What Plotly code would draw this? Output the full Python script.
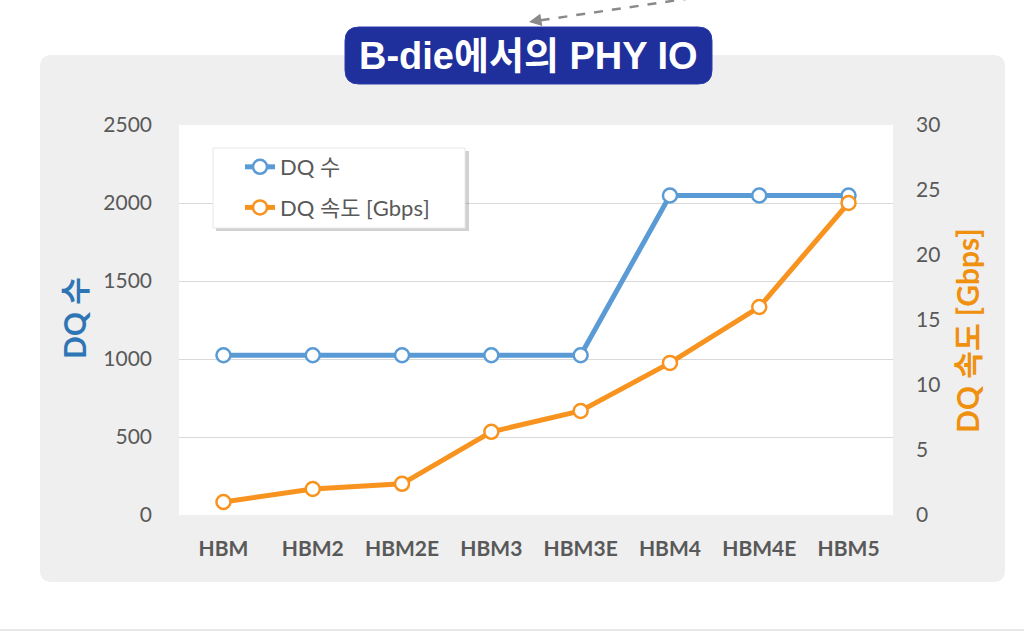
import plotly.graph_objects as go

# data
categories = ["HBM", "HBM2", "HBM2E", "HBM3", "HBM3E", "HBM4", "HBM4E", "HBM5"]
dq_count = [1024, 1024, 1024, 1024, 1024, 2048, 2048, 2048]
dq_speed = [1.0, 2.0, 2.4, 6.4, 8.0, 11.7, 16.0, 24.0]
left_ticks = [0, 500, 1000, 1500, 2000, 2500]
right_ticks = [0, 5, 10, 15, 20, 25, 30]

BLUE = "#5b9bd5"
ORANGE = "#f7931e"
GRAY_TXT = "#595959"
FONT = "Lato, Noto Sans CJK KR, sans-serif"

# plot area in pixels (left, top, right, bottom)
L, T, R, B = 179, 125, 893, 515


def px(x):
    return (x - L) / (R - L)


def py(y):
    return (B - y) / (B - T)


def rrect(x0, y0, x1, y1, r):
    return (f"M {px(x0 + r)},{py(y0)} L {px(x1 - r)},{py(y0)} "
            f"Q {px(x1)},{py(y0)} {px(x1)},{py(y0 + r)} L {px(x1)},{py(y1 - r)} "
            f"Q {px(x1)},{py(y1)} {px(x1 - r)},{py(y1)} L {px(x0 + r)},{py(y1)} "
            f"Q {px(x0)},{py(y1)} {px(x0)},{py(y1 - r)} L {px(x0)},{py(y0 + r)} "
            f"Q {px(x0)},{py(y0)} {px(x0 + r)},{py(y0)} Z")


fig = go.Figure()

fig.add_trace(go.Scatter(
    x=categories, y=dq_count, name="DQ 수", mode="lines+markers",
    line=dict(color=BLUE, width=5),
    marker=dict(size=14, color="white", line=dict(color=BLUE, width=2.5)),
    legendgroup="a"))

fig.add_trace(go.Scatter(
    x=categories, y=dq_speed, name="DQ 속도 [Gbps]", mode="lines+markers",
    yaxis="y2",
    line=dict(color=ORANGE, width=5),
    marker=dict(size=14, color="white", line=dict(color=ORANGE, width=2.5)),
    legendgroup="b"))

shapes = [
    # gray panel
    dict(type="path", xref="paper", yref="paper", path=rrect(40, 55, 1005, 582, 12),
         fillcolor="#efefef", line=dict(width=0), layer="below"),
    # white plot area
    dict(type="rect", xref="paper", yref="paper", x0=0, x1=1, y0=0, y1=1,
         fillcolor="white", line=dict(width=0), layer="below"),
    # legend shadow + box
    dict(type="rect", xref="paper", yref="paper", x0=px(216), x1=px(469),
         y0=py(231), y1=py(151), fillcolor="rgba(0,0,0,0.18)", line=dict(width=0)),
    dict(type="rect", xref="paper", yref="paper", x0=px(213), x1=px(465),
         y0=py(228), y1=py(148), fillcolor="white", line=dict(color="#e6e6e6", width=1)),
    # title box
    dict(type="path", xref="paper", yref="paper", path=rrect(345, 27, 712, 84, 14),
         fillcolor="#1f2f9c", line=dict(color="#2a3aa8", width=1)),
    # dashed arrow line
    dict(type="line", xref="paper", yref="paper", x0=px(692), y0=py(-2),
         x1=px(536), y1=py(21), line=dict(color="#8a8a8a", width=2.5, dash="dash")),
    # bottom rule
    dict(type="line", xref="paper", yref="paper", x0=px(0), x1=px(1024),
         y0=py(630), y1=py(630), line=dict(color="#d0d0d0", width=1)),
]

annotations = [
    dict(text="<b>B-die에서의 PHY IO</b>", xref="paper", yref="paper",
         x=px(528), y=py(56), showarrow=False, yanchor="middle",
         font=dict(family="Liberation Sans, Noto Sans CJK KR, sans-serif", size=38, color="white")),
    dict(text="", xref="paper", yref="paper", x=px(529), y=py(22),
         ax=12, ay=-2, showarrow=True, arrowhead=2, arrowsize=1, arrowwidth=2.5,
         arrowcolor="#8a8a8a"),
    dict(text="<b>DQ 수</b>", xref="paper", yref="paper", x=px(54), y=py(318),
         textangle=-90, showarrow=False,
         font=dict(family=FONT, size=30, color="#2e75b6")),
    dict(text="<b>DQ 속도 [Gbps]</b>", xref="paper", yref="paper", x=px(987), y=py(331),
         textangle=-90, showarrow=False,
         font=dict(family=FONT, size=30, color="#f0900f")),
]

fig.update_layout(
    width=1024, height=631,
    margin=dict(l=L, r=1024 - R, t=T, b=631 - B),
    paper_bgcolor="white", plot_bgcolor="white",
    font=dict(family=FONT, color=GRAY_TXT),
    shapes=shapes, annotations=annotations,
    showlegend=True,
    legend=dict(x=px(240), y=py(146), xanchor="left", yanchor="top",
                bgcolor="rgba(0,0,0,0)", font=dict(size=22, color=GRAY_TXT),
                tracegroupgap=9),
    xaxis=dict(type="category", showgrid=False, zeroline=False, showline=False,
               tickfont=dict(size=21, color=GRAY_TXT, weight="bold"),
               ticklabelstandoff=19),
    yaxis=dict(range=[0, 2500], tickvals=left_ticks, showgrid=True,
               gridcolor="#d9d9d9", gridwidth=1, zeroline=False, showline=False,
               tickfont=dict(size=21, color=GRAY_TXT), ticklabelstandoff=26),
    yaxis2=dict(range=[0, 30], tickvals=right_ticks, overlaying="y", side="right",
                showgrid=False, zeroline=False, showline=False,
                tickfont=dict(size=21, color=GRAY_TXT), ticklabelstandoff=22),
)

fig.write_html("out.html", config={"displayModeBar": False},
               post_script="document.body.style.margin='0';")
